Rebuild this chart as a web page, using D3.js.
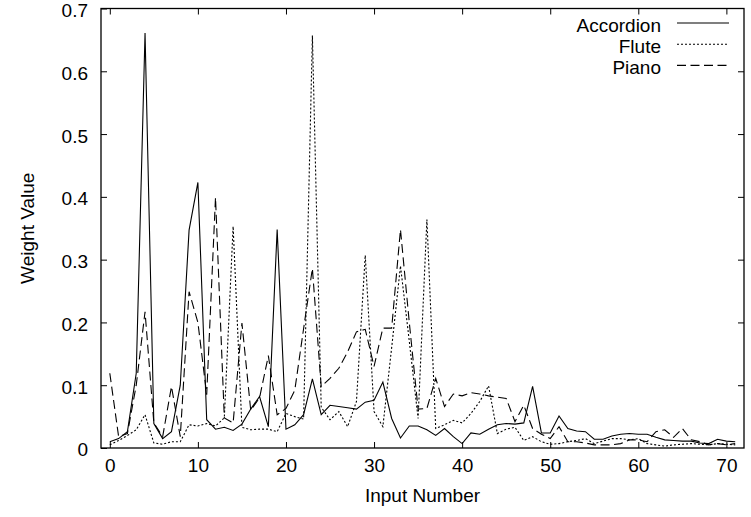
<!DOCTYPE html>
<html>
<head>
<meta charset="utf-8">
<script src="https://cdn.jsdelivr.net/npm/d3@7"></script>
<style>
  body { margin: 0; background: #fff; }
  text { font-family: "Liberation Sans", Arial, Helvetica, sans-serif; fill: #000; }
</style>
</head>
<body>
<svg id="chart" width="751" height="517"></svg>
<script>
// values, input number 0..71
var accordion = [0.010, 0.015, 0.026, 0.119, 0.661, 0.039, 0.015, 0.026, 0.100, 0.347,
  0.423, 0.045, 0.030, 0.033, 0.028, 0.038, 0.062, 0.082, 0.034, 0.348,
  0.030, 0.037, 0.053, 0.110, 0.053, 0.068, 0.066, 0.064, 0.062, 0.073,
  0.076, 0.105, 0.047, 0.016, 0.035, 0.035, 0.029, 0.020, 0.031, 0.018,
  0.007, 0.024, 0.022, 0.030, 0.037, 0.039, 0.038, 0.040, 0.098, 0.024,
  0.024, 0.051, 0.031, 0.027, 0.026, 0.014, 0.014, 0.019, 0.022, 0.023,
  0.022, 0.022, 0.017, 0.013, 0.012, 0.011, 0.011, 0.008, 0.007, 0.014,
  0.011, 0.010];

var flute = [0.005, 0.012, 0.020, 0.029, 0.053, 0.008, 0.006, 0.010, 0.010, 0.037,
  0.035, 0.039, 0.035, 0.048, 0.353, 0.033, 0.029, 0.030, 0.030, 0.026,
  0.055, 0.050, 0.046, 0.657, 0.065, 0.045, 0.058, 0.034, 0.074, 0.307,
  0.058, 0.034, 0.160, 0.290, 0.170, 0.047, 0.364, 0.031, 0.037, 0.044,
  0.040, 0.055, 0.074, 0.099, 0.023, 0.030, 0.033, 0.012, 0.018, 0.010,
  0.006, 0.007, 0.010, 0.012, 0.015, 0.007, 0.011, 0.015, 0.015, 0.013,
  0.015, 0.007, 0.005, 0.003, 0.005, 0.006, 0.007, 0.006, 0.005, 0.007,
  0.006, 0.005];

var piano = [0.119, 0.018, 0.023, 0.100, 0.217, 0.040, 0.018, 0.098, 0.018, 0.249,
  0.200, 0.085, 0.399, 0.048, 0.040, 0.199, 0.060, 0.080, 0.147, 0.053,
  0.063, 0.092, 0.190, 0.286, 0.098, 0.111, 0.127, 0.153, 0.185, 0.189,
  0.130, 0.191, 0.191, 0.348, 0.200, 0.062, 0.063, 0.111, 0.066, 0.086,
  0.083, 0.088, 0.086, 0.083, 0.081, 0.079, 0.042, 0.068, 0.031, 0.022,
  0.015, 0.034, 0.010, 0.010, 0.008, 0.005, 0.005, 0.005, 0.007, 0.013,
  0.013, 0.010, 0.026, 0.029, 0.017, 0.031, 0.013, 0.010, 0.005, 0.007,
  0.005, 0.007];

var seriesNames = ["Accordion", "Flute", "Piano"];
var xTicks = [0, 10, 20, 30, 40, 50, 60, 70];
var yTicks = [0, 0.1, 0.2, 0.3, 0.4, 0.5, 0.6, 0.7];

var svg = d3.select("#chart");
var plotLeft = 101, plotRight = 744, plotTop = 8.5, plotBottom = 448;
var fontSize = 19;

var x = d3.scaleLinear().domain([-1, 72]).range([plotLeft, plotRight]);
var y = d3.scaleLinear().domain([0, 0.7]).range([plotBottom, plotTop]);

var series = [
  {name: seriesNames[0], values: accordion, dash: null},
  {name: seriesNames[1], values: flute, dash: "2,2"},
  {name: seriesNames[2], values: piano, dash: "9,4.5"}
];

var tickLen = 6;

// axes: gnuplot style, ticks pointing inward, mirrored
var gLeft = svg.append("g").attr("transform", "translate(" + plotLeft + ",0)")
  .call(d3.axisLeft(y).tickValues(yTicks).tickSize(-tickLen).tickPadding(13)
    .tickFormat(function(d) { return d === 0 ? "0" : d3.format(".1f")(d); }));
var gRight = svg.append("g").attr("transform", "translate(" + plotRight + ",0)")
  .call(d3.axisRight(y).tickValues(yTicks.slice(1, -1)).tickSize(-tickLen).tickFormat(""));
var gBottom = svg.append("g").attr("transform", "translate(0," + plotBottom + ")")
  .call(d3.axisBottom(x).tickValues(xTicks).tickSize(-tickLen).tickPadding(11));
var gTop = svg.append("g").attr("transform", "translate(0," + plotTop + ")")
  .call(d3.axisTop(x).tickValues(xTicks).tickSize(-tickLen).tickFormat(""));

[gLeft, gRight, gBottom, gTop].forEach(function(g) {
  g.select(".domain").remove();
  g.selectAll(".tick line").attr("stroke", "#000").attr("stroke-width", 1);
  g.selectAll("text").attr("font-size", fontSize).attr("fill", "#000")
    .style("font-family", "'Liberation Sans', Arial, sans-serif");
});
// keep the top label inside the picture
gLeft.selectAll("text").attr("dy", "0.42em");

// frame
svg.append("rect")
  .attr("x", plotLeft).attr("y", plotTop)
  .attr("width", plotRight - plotLeft).attr("height", plotBottom - plotTop)
  .attr("fill", "none").attr("stroke", "#000").attr("stroke-width", 1.3);

var line = d3.line()
  .x(function(d, i) { return x(i); })
  .y(function(d) { return y(d); });

svg.selectAll("path.series")
  .data(series)
  .enter().append("path")
  .attr("class", "series")
  .attr("d", function(s) { return line(s.values); })
  .attr("fill", "none")
  .attr("stroke", "#000")
  .attr("stroke-width", 1.1)
  .attr("stroke-dasharray", function(s) { return s.dash; });

// legend
var legend = svg.append("g");
series.forEach(function(s, i) {
  var ly = 25 + i * 21.2;
  legend.append("text")
    .attr("x", 661).attr("y", ly).attr("dy", "0.35em")
    .attr("text-anchor", "end").attr("font-size", fontSize)
    .text(s.name);
  legend.append("line")
    .attr("x1", 677).attr("x2", 729).attr("y1", ly - 2).attr("y2", ly - 2)
    .attr("stroke", "#000").attr("stroke-width", 1.1)
    .attr("stroke-dasharray", s.dash);
});

// axis titles
svg.append("text")
  .attr("x", (plotLeft + plotRight) / 2).attr("y", 502)
  .attr("text-anchor", "middle").attr("font-size", fontSize)
  .text("Input Number");

svg.append("text")
  .attr("transform", "translate(34," + ((plotTop + plotBottom) / 2) + ") rotate(-90)")
  .attr("text-anchor", "middle").attr("font-size", fontSize)
  .text("Weight Value");
</script>
</body>
</html>
